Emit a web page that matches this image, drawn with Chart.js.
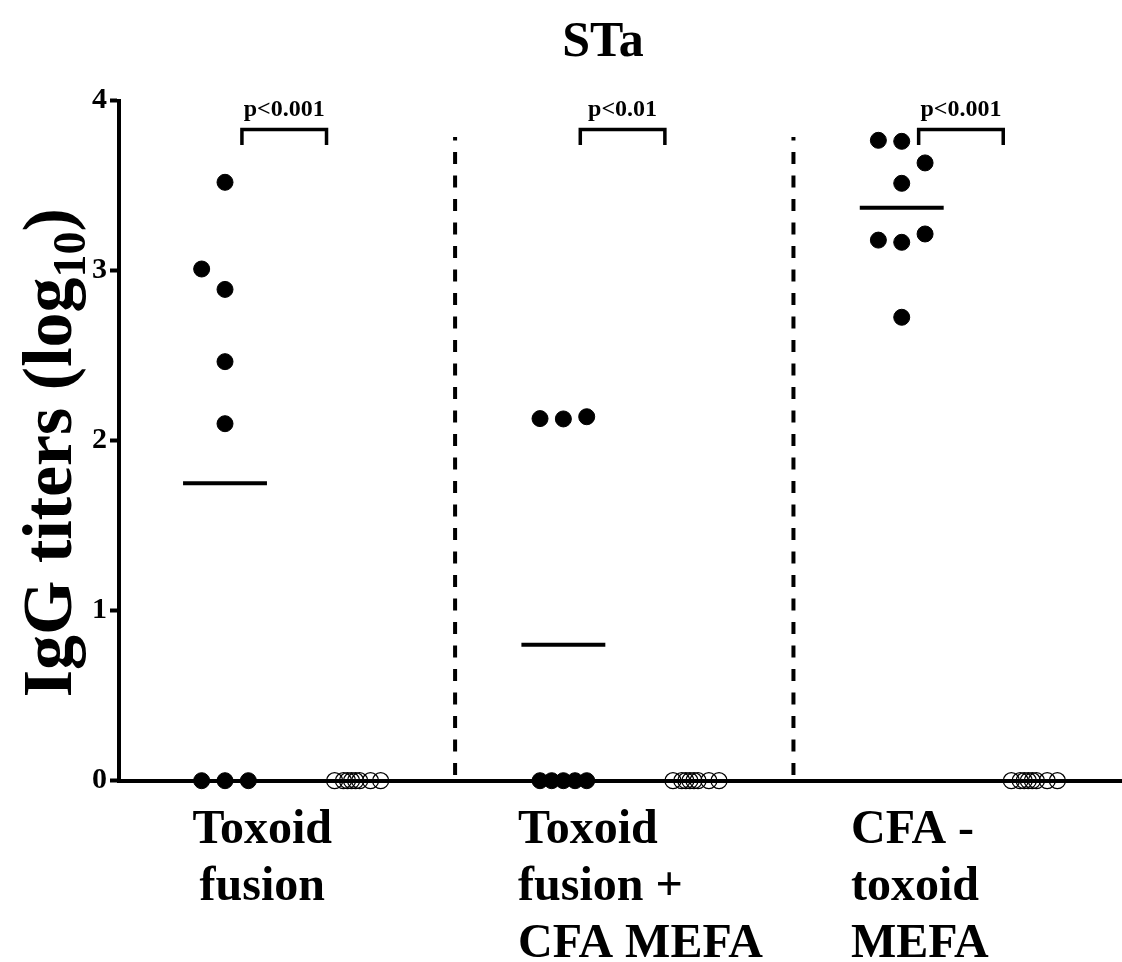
<!DOCTYPE html>
<html>
<head>
<meta charset="utf-8">
<script src="https://cdn.jsdelivr.net/npm/chart.js@4/dist/chart.umd.min.js"></script>
<style>
  html, body { margin: 0; padding: 0; background: #ffffff; }
  #wrap { width: 1122px; height: 962px; }
</style>
</head>
<body>
<div id="wrap"><canvas id="c" width="1122" height="962"></canvas></div>
<script>
// ---------------- DATA ----------------
const chartTitle = "STa";
const categories = [
  ["Toxoid", "fusion"],
  ["Toxoid", "fusion +", "CFA MEFA"],
  ["CFA -", "toxoid", "MEFA"]
];
const yTicks = [0, 1, 2, 3, 4];

// immunized mice (filled dots): log10 IgG titers
const immunizedValues = [
  [3.52, 3.01, 2.89, 2.465, 2.10, 0, 0, 0],
  [2.13, 2.128, 2.141, 0, 0, 0, 0, 0],
  [3.767, 3.761, 3.634, 3.514, 3.18, 3.167, 3.216, 2.726]
];
// horizontal jitter of the dots inside a group (in group units)
const immunizedJitter = [
  [0, -0.069, 0, 0, 0, -0.069, 0, 0.069],
  [-0.069, 0, 0.069, -0.069, -0.0345, 0, 0.0345, 0.069],
  [-0.069, 0, 0.069, 0, -0.069, 0, 0.069, 0]
];
// control mice (open circles)
const controlValues = [
  [0, 0, 0, 0, 0, 0, 0, 0],
  [0, 0, 0, 0, 0, 0, 0, 0],
  [0, 0, 0, 0, 0, 0, 0, 0]
];
const controlJitter = [-0.066, -0.040, -0.028, -0.016, -0.004, 0.008, 0.040, 0.070];

// group means (horizontal bars)
const groupMeans = [1.75, 0.80, 3.37];
// significance labels
const pLabels = ["p<0.001", "p<0.01", "p<0.001"];

// ---------------- LAYOUT CONSTANTS ----------------
const CONTROL_SHIFT = 0.39;
const MEAN_HALF = 0.124;
const BR_L = 0.05, BR_R = 0.30, BR_TOP = 3.83, BR_BOT = 3.74;
const DIVIDER_SHIFT = 0.68;
const FONT = "'Liberation Serif', 'Times New Roman', serif";

const datasets = [];
categories.forEach((cat, g) => {
  datasets.push({
    label: "immunized " + g,
    data: immunizedValues[g].map((v, k) => ({ x: g + immunizedJitter[g][k], y: v })),
    pointRadius: 8, pointHoverRadius: 8,
    pointBackgroundColor: "#000", pointBorderColor: "#000", pointBorderWidth: 1,
    showLine: false, clip: false
  });
  datasets.push({
    label: "control " + g,
    data: controlValues[g].map((v, k) => ({ x: g + CONTROL_SHIFT + controlJitter[k], y: v })),
    pointRadius: 8, pointHoverRadius: 8,
    pointBackgroundColor: "rgba(0,0,0,0)", pointBorderColor: "#000", pointBorderWidth: 1.3,
    showLine: false, clip: false
  });
  datasets.push({
    label: "mean " + g,
    data: [{ x: g - MEAN_HALF, y: groupMeans[g] }, { x: g + MEAN_HALF, y: groupMeans[g] }],
    showLine: true, borderColor: "#000", borderWidth: 4, pointRadius: 0, clip: false
  });
  datasets.push({
    label: "bracket " + g,
    data: [
      { x: g + BR_L, y: BR_BOT }, { x: g + BR_L, y: BR_TOP },
      { x: g + BR_R, y: BR_TOP }, { x: g + BR_R, y: BR_BOT }
    ],
    showLine: true, borderColor: "#000", borderWidth: 3.5, pointRadius: 0,
    borderCapStyle: "butt", borderJoinStyle: "miter", clip: false
  });
  if (g < categories.length - 1) {
    datasets.push({
      label: "divider " + g,
      data: [{ x: g + DIVIDER_SHIFT, y: 0.034 }, { x: g + DIVIDER_SHIFT, y: 3.786 }],
      showLine: true, borderColor: "#000", borderWidth: 4, borderDash: [12, 11.5],
      pointRadius: 0, clip: false
    });
  }
});

const textPlugin = {
  id: "texts",
  afterDraw(chart) {
    const ctx = chart.ctx;
    const xs = chart.scales.x, ys = chart.scales.y;
    ctx.save();
    ctx.fillStyle = "#000";
    // title
    ctx.font = "bold 50px " + FONT;
    ctx.textAlign = "center";
    ctx.textBaseline = "alphabetic";
    ctx.fillText(chartTitle, 603, 56);

    // p labels
    ctx.font = "bold 24px " + FONT;
    ctx.textAlign = "center";
    pLabels.forEach((t, g) => {
      const cx = (xs.getPixelForValue(g + BR_L) + xs.getPixelForValue(g + BR_R)) / 2;
      ctx.fillText(t, cx, ys.getPixelForValue(BR_TOP) - 14);
    });

    // category labels
    ctx.font = "bold 48px " + FONT;
    const anchors = [
      { dx: 0.11, align: "center" },
      { dx: -0.134, align: "left" },
      { dx: -0.15, align: "left" }
    ];
    categories.forEach((lines, g) => {
      const a = anchors[g];
      const x = xs.getPixelForValue(g + a.dx);
      ctx.textAlign = a.align;
      lines.forEach((ln, i) => ctx.fillText(ln, x, 843 + i * 57));
    });

    // y-axis title with subscript
    const main = "IgG titers (log", sub = "10", close = ")";
    const fs = 70;
    ctx.translate(71, (ys.top + ys.bottom) / 2 + 12);
    ctx.rotate(-Math.PI / 2);
    ctx.textAlign = "left";
    ctx.font = "bold " + fs + "px " + FONT;
    const w1 = ctx.measureText(main).width;
    const w3 = ctx.measureText(close).width;
    ctx.font = "bold " + Math.round(fs * 0.66) + "px " + FONT;
    const w2 = ctx.measureText(sub).width;
    let x0 = -(w1 + w2 + w3) / 2;
    ctx.font = "bold " + fs + "px " + FONT;
    ctx.fillText(main, x0, 0);
    ctx.font = "bold " + Math.round(fs * 0.66) + "px " + FONT;
    ctx.fillText(sub, x0 + w1, fs * 0.2);
    ctx.font = "bold " + fs + "px " + FONT;
    ctx.fillText(close, x0 + w1 + w2, 0);
    ctx.restore();
  }
};

new Chart(document.getElementById("c"), {
  type: "scatter",
  data: { datasets },
  options: {
    responsive: false,
    animation: false,
    events: [],
    layout: { autoPadding: false, padding: { top: 100.7, left: 0, right: 0, bottom: 0 } },
    plugins: { legend: { display: false }, tooltip: { enabled: false }, title: { display: false } },
    scales: {
      x: {
        type: "linear",
        min: -0.3133, max: 2.651,
        ticks: { display: false },
        grid: { display: false },
        border: { display: true, color: "#000", width: 4 },
        afterFit: s => { s.height = 181.3; }
      },
      y: {
        type: "linear",
        min: 0, max: 4,
        afterBuildTicks: s => { s.ticks = yTicks.map(v => ({ value: v })); },
        ticks: {
          color: "#000",
          font: { family: FONT, size: 30, weight: "bold" },
          padding: 3
        },
        grid: {
          display: true, drawOnChartArea: false, drawTicks: true,
          tickLength: 9, tickWidth: 4, tickColor: "#000", color: "#000"
        },
        border: { display: true, color: "#000", width: 4 },
        afterFit: s => { s.width = 119; }
      }
    }
  },
  plugins: [textPlugin]
});
</script>
</body>
</html>
